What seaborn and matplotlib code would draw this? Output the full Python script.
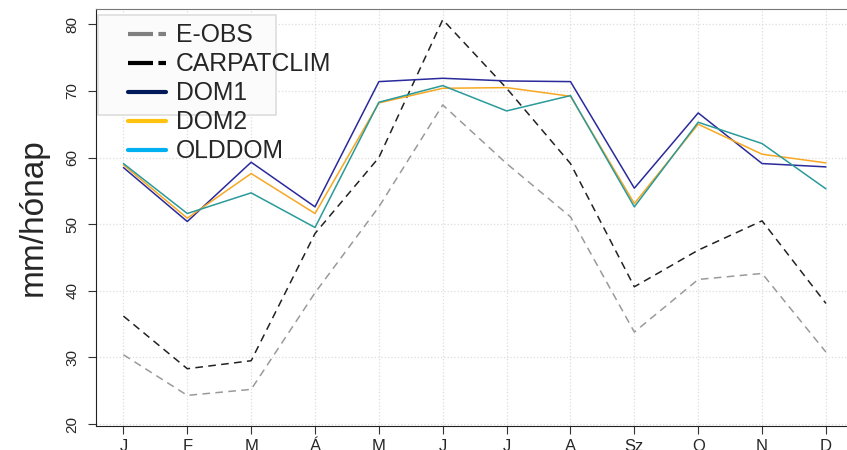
import matplotlib
matplotlib.use("Agg")
import matplotlib.pyplot as plt
from matplotlib.lines import Line2D
from matplotlib.patches import Rectangle
import seaborn as sns
import numpy as np
import pandas as pd

# havi csapadék, mm/hónap
honapok = ['J', 'F', 'M', 'Á', 'M', 'J', 'J', 'A', 'Sz', 'O', 'N', 'D']
eobs = [30.4, 24.3, 25.2, 39.7, 52.6, 67.9, 59.1, 51.1, 33.8, 41.7, 42.6, 30.8]
carpatclim = [36.2, 28.3, 29.5, 48.6, 60.0, 80.7, 70.4, 59.1, 40.6, 46.1, 50.5, 38.1]
dom1 = [58.5, 50.4, 59.3, 52.6, 71.4, 71.9, 71.5, 71.4, 55.4, 66.7, 59.1, 58.6]
dom2 = [58.9, 50.9, 57.6, 51.6, 68.2, 70.4, 70.5, 69.2, 53.1, 65.0, 60.5, 59.2]
olddom = [59.1, 51.6, 54.7, 49.5, 68.3, 70.8, 67.0, 69.3, 52.6, 65.3, 62.1, 55.3]

sorozatok = {'E-OBS': eobs, 'CARPATCLIM': carpatclim, 'DOM1': dom1,
             'DOM2': dom2, 'OLDDOM': olddom}

rows = []
for nev, ertekek in sorozatok.items():
    for i, v in enumerate(ertekek):
        rows.append({'ho': i, 'ertek': v, 'adat': nev})
df = pd.DataFrame(rows)

# vonal szinek a grafikonon
vonal_szin = {'E-OBS': '#9a9a9a', 'CARPATCLIM': '#222222', 'DOM1': '#2a2a9c',
              'DOM2': '#f7a823', 'OLDDOM': '#2a9a9a'}
# a jelmagyarazat szinei (eltérnek a vonalaktól, mint az eredetin)
jel_szin = {'E-OBS': '#808080', 'CARPATCLIM': '#000000', 'DOM1': '#021a5a',
            'DOM2': '#ffc20e', 'OLDDOM': '#00b0f0'}
szaggatott = {'E-OBS': (5, 3.5), 'CARPATCLIM': (5, 3.5), 'DOM1': '',
              'DOM2': '', 'OLDDOM': ''}

sns.set_style("white")
plt.rcParams['font.family'] = ['Liberation Sans', 'DejaVu Sans']

fig = plt.figure(figsize=(8.47, 4.5), dpi=100)
ax = fig.add_axes([0.1133, 0.0533, 0.8867, 0.9267])

sns.lineplot(data=df, x='ho', y='ertek', hue='adat', style='adat',
             palette=vonal_szin, dashes=szaggatott, linewidth=1.1,
             legend=False, ax=ax, zorder=3)

ax.set_xlim(-0.43, 11.33)
ax.set_ylim(19.7, 82.3)
ax.set_xticks(np.arange(len(honapok)))
ax.set_xticklabels(honapok, fontsize=12)
ax.set_yticks(np.arange(20, 81, 10))
ax.set_yticklabels([str(v) for v in range(20, 81, 10)], fontsize=11,
                   rotation=90, va='center')
ax.tick_params(axis='both', direction='out', length=6, width=0.8,
               color='#333333', left=True, bottom=True)
ax.tick_params(axis='y', pad=6)
ax.tick_params(axis='x', pad=3)
ax.grid(True, color='#dddddd', linestyle=':', linewidth=0.9, zorder=0)
ax.set_xlabel('')
ax.set_ylabel('mm/hónap', fontsize=24, labelpad=12)

ax.spines['right'].set_visible(False)
ax.spines['top'].set_color('#777777')
ax.spines['top'].set_linewidth(0.8)
ax.spines['left'].set_color('#222222')
ax.spines['bottom'].set_color('#222222')

# halvány doboz a jelmagyarázat mögött
ax.add_patch(Rectangle((0.003, 0.745), 0.237, 0.24, transform=ax.transAxes,
                       facecolor='#fbfbfb', edgecolor='#dddddd',
                       linewidth=1.2, zorder=2))

handles = [Line2D([0], [0], color=jel_szin[n], linewidth=3,
                  linestyle=(0, (6, 1.3)) if szaggatott[n] else '-')
           for n in sorozatok]
ax.legend(handles, list(sorozatok), loc='upper left',
          bbox_to_anchor=(0.026, 0.995), frameon=False, fontsize=17.8,
          handlelength=1.54, handletextpad=0.4, labelspacing=0.2,
          borderaxespad=0.1)

fig.savefig('out.png', dpi=100)
